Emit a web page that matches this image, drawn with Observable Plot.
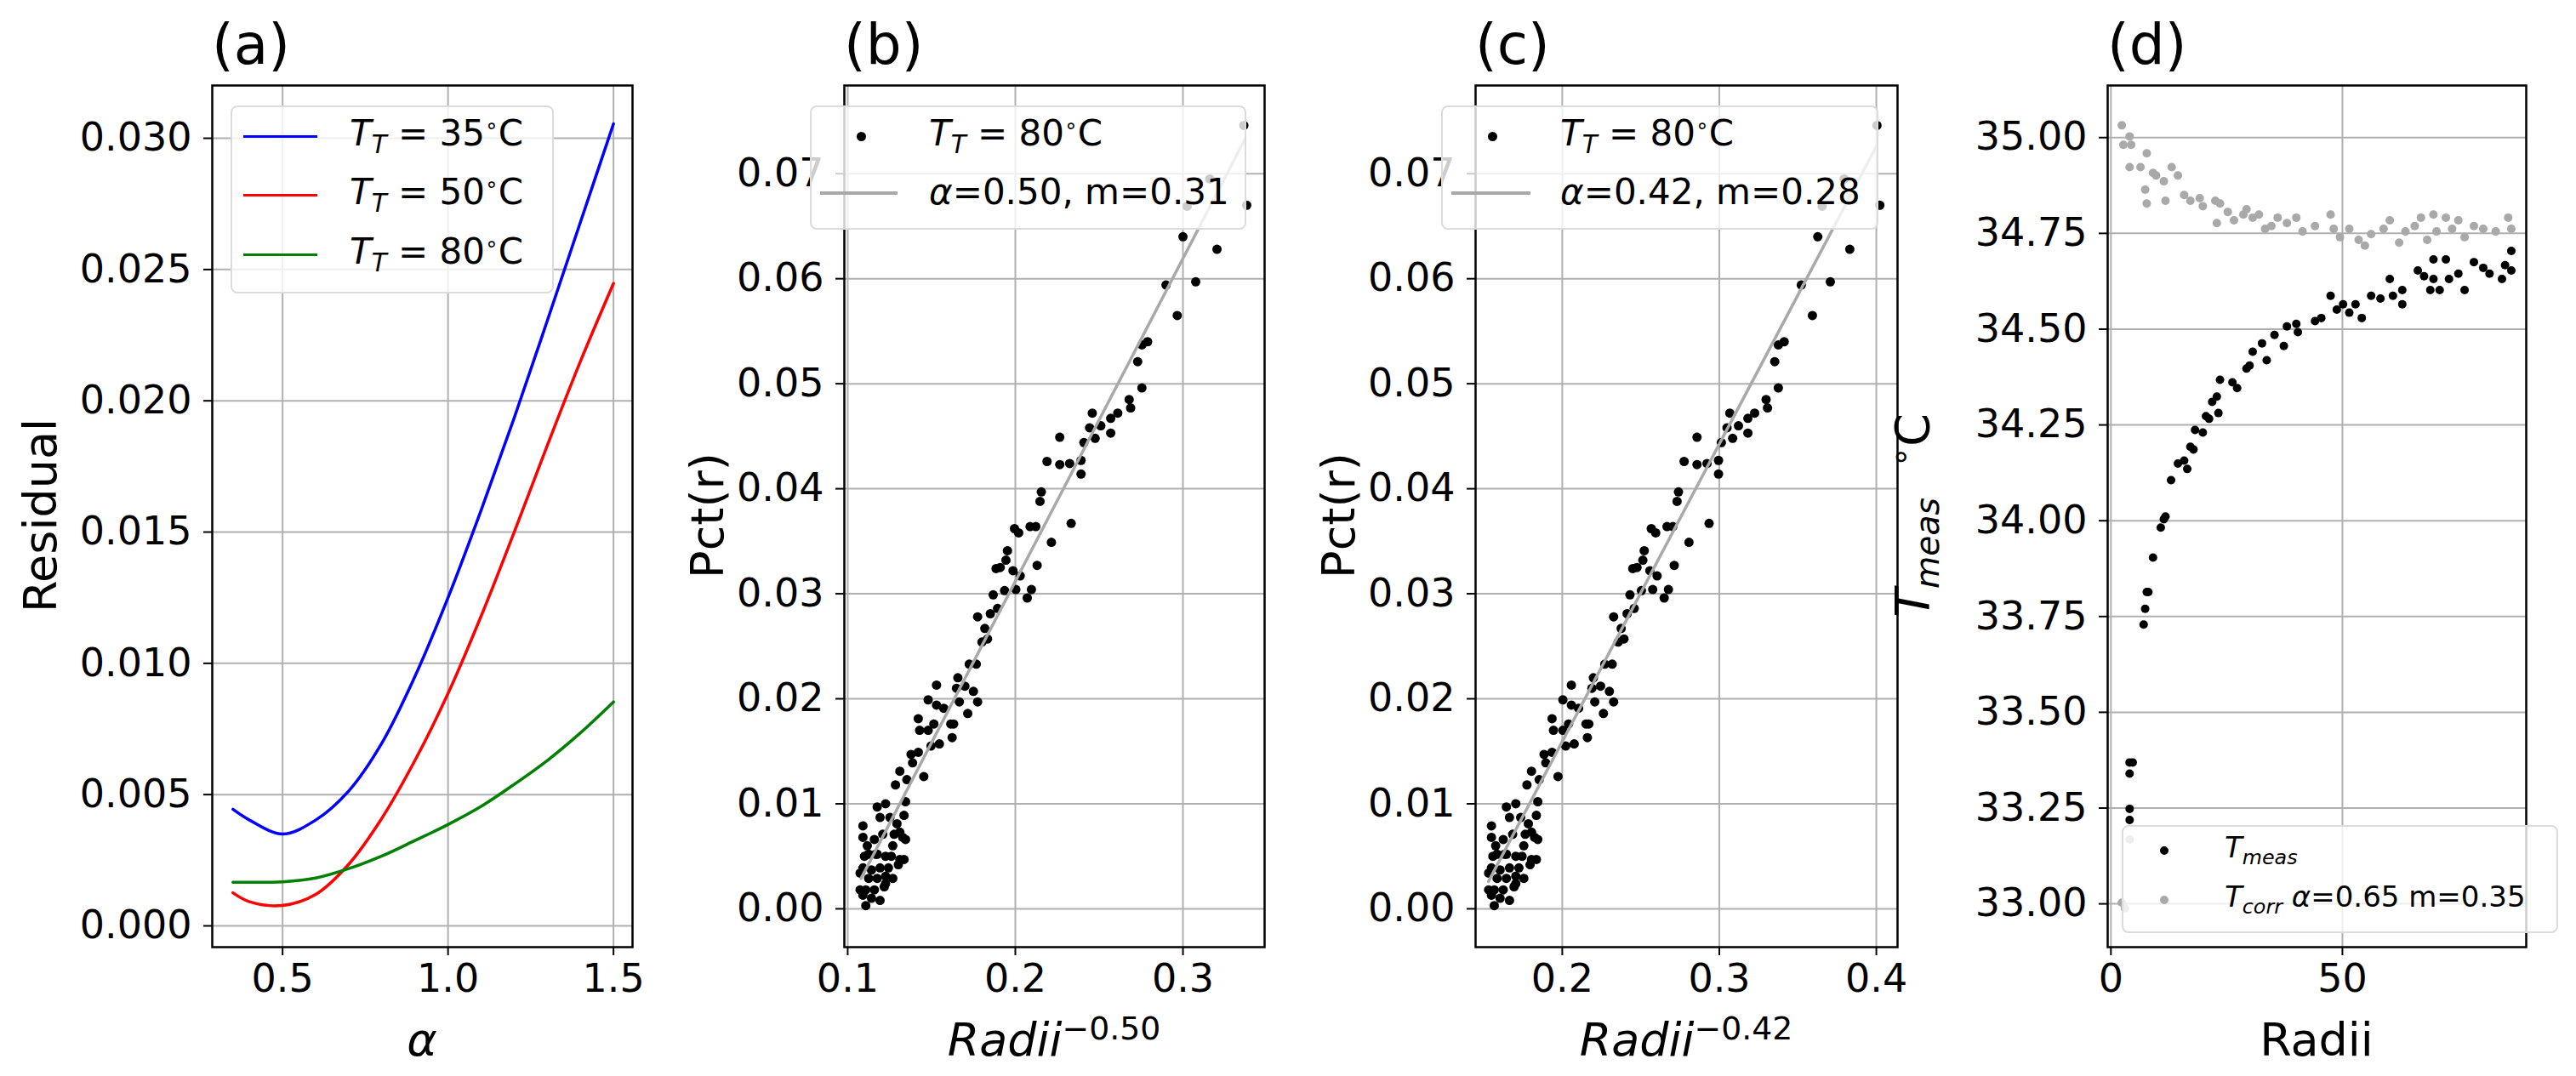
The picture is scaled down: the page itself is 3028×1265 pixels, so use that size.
<!DOCTYPE html>
<html><head><meta charset="utf-8">
<script src="https://cdn.jsdelivr.net/npm/d3@7"></script>
<script src="https://cdn.jsdelivr.net/npm/@observablehq/plot@0.6"></script>
<style>
body{margin:0;background:#fff;font-family:"DejaVu Sans",sans-serif;}
#root{position:relative;width:3028px;height:1265px;overflow:hidden;}
#root svg{position:absolute;top:0;overflow:visible;}
.t{position:absolute;white-space:nowrap;color:#000;transform:translate(-50%,-50%);line-height:1;}
.yl{transform:translate(-50%,-50%) rotate(-90deg);}
.title{position:absolute;font-size:66px;line-height:1;}
.leg{position:absolute;background:rgba(255,255,255,0.8);border:2px solid #dcdcdc;border-radius:8px;box-sizing:border-box;}
i{font-style:italic;}
sub,sup{font-size:0.7em;}
</style></head><body><div id="root"></div>
<script>
// ---------- panel (a) ----------
const alphaGrid = [0.35,0.4,0.5,0.6,0.7,0.8,0.9,1.0,1.1,1.2,1.3,1.4,1.5];
const resid35 = [0.00444,0.00403,0.00350,0.00403,0.00514,0.00696,0.00950,0.01250,0.01583,0.01935,0.02305,0.02680,0.03055];
const resid50 = [0.00126,0.00092,0.00078,0.00120,0.00235,0.00410,0.00630,0.00885,0.01180,0.01500,0.01830,0.02150,0.02447];
const resid80 = [0.00166,0.00166,0.00168,0.00182,0.00218,0.00266,0.00325,0.00386,0.00455,0.00539,0.00630,0.00735,0.00853];
// ---------- panels (b),(c) ----------
const pctY = [0.0746,0.0695,0.0669,0.0670,0.0640,0.0628,0.0597,0.0594,0.0565,0.0540,0.0537,0.0521,0.0496,0.0485,0.0477,0.0472,0.0467,0.0453,0.0472,0.0458,0.0460,0.0448,0.0444,0.0427,0.0414,0.0424,0.0423,0.0449,0.0426,0.0397,0.0388,0.0367,0.0349,0.0364,0.0364,0.0362,0.0358,0.0341,0.0332,0.0324,0.0325,0.0322,0.0317,0.0327,0.0304,0.0296,0.0304,0.0303,0.0299,0.0286,0.0281,0.0278,0.0267,0.0254,0.0257,0.0233,0.0233,0.0220,0.0213,0.0210,0.0212,0.0207,0.0197,0.0186,0.0197,0.0191,0.0199,0.0194,0.0176,0.0176,0.0163,0.0157,0.0176,0.0181,0.0170,0.0170,0.0155,0.0126,0.0149,0.0147,0.0139,0.0131,0.0118,0.0123,0.0102,0.0089,0.0100,0.0097,0.0087,0.0087,0.0081,0.0068,0.0066,0.0060,0.0071,0.0066,0.0079,0.0068,0.0050,0.0052,0.0052,0.0050,0.0050,0.0047,0.0047,0.0042,0.0039,0.0039,0.0037,0.0039,0.0034,0.0029,0.0029,0.0031,0.0029,0.0021,0.0018,0.0018,0.0018,0.0024,0.0010,0.0008,0.0003,0.0013,0.0052,0.0060,0.0071,0.0073];
const radiiPow50 = [0.3363,0.3160,0.3025,0.3380,0.3000,0.3203,0.3076,0.2899,0.2966,0.2789,0.2755,0.2730,0.2755,0.2679,0.2688,0.2611,0.2569,0.2569,0.2459,0.2443,0.2510,0.2476,0.2409,0.2392,0.2392,0.2324,0.2265,0.2265,0.2189,0.2155,0.2147,0.2333,0.2215,0.2122,0.2088,0.1995,0.2020,0.1953,0.1944,0.1885,0.1910,0.1986,0.2029,0.2130,0.2096,0.2071,0.2003,0.1936,0.1868,0.1894,0.1851,0.1775,0.1818,0.1801,0.1834,0.1767,0.1725,0.1657,0.1530,0.1649,0.1699,0.1750,0.1775,0.1716,0.1666,0.1573,0.1480,0.1530,0.1615,0.1632,0.1623,0.1547,0.1514,0.1421,0.1429,0.1480,0.1497,0.1454,0.1421,0.1378,0.1387,0.1311,0.1285,0.1353,0.1345,0.1336,0.1226,0.1176,0.1193,0.1252,0.1294,0.1328,0.1345,0.1269,0.1209,0.1159,0.1091,0.1091,0.1100,0.1125,0.1176,0.1226,0.1260,0.1311,0.1336,0.1302,0.1243,0.1193,0.1142,0.1091,0.1074,0.1125,0.1176,0.1226,0.1269,0.1218,0.1159,0.1108,0.1074,0.1226,0.1142,0.1193,0.1108,0.1091,0.1167,0.1117,0.1277,0.1311];
const radiiPow42 = [0.4004,0.3795,0.3655,0.4022,0.3627,0.3831,0.3707,0.3522,0.3593,0.3413,0.3376,0.3353,0.3376,0.3298,0.3307,0.3225,0.3182,0.3182,0.3067,0.3049,0.3122,0.3085,0.3013,0.2995,0.2995,0.2922,0.2858,0.2858,0.2776,0.2740,0.2731,0.2935,0.2807,0.2704,0.2667,0.2567,0.2595,0.2522,0.2513,0.2449,0.2476,0.2558,0.2604,0.2713,0.2676,0.2649,0.2576,0.2504,0.2431,0.2458,0.2413,0.2327,0.2375,0.2356,0.2393,0.2318,0.2271,0.2198,0.2058,0.2189,0.2244,0.2300,0.2327,0.2262,0.2207,0.2104,0.2004,0.2058,0.2151,0.2169,0.2160,0.2076,0.2040,0.1935,0.1944,0.2004,0.2022,0.1973,0.1935,0.1884,0.1895,0.1804,0.1775,0.1853,0.1844,0.1835,0.1704,0.1644,0.1664,0.1735,0.1784,0.1824,0.1844,0.1755,0.1684,0.1624,0.1549,0.1549,0.1558,0.1585,0.1644,0.1704,0.1744,0.1804,0.1835,0.1795,0.1724,0.1664,0.1604,0.1549,0.1531,0.1585,0.1644,0.1704,0.1755,0.1693,0.1624,0.1567,0.1531,0.1704,0.1604,0.1664,0.1567,0.1549,0.1633,0.1576,0.1764,0.1804];
const fitB_x = [0.108,0.337], fitB_y = [0.0029,0.0733];
const fitC_x = [0.153,0.400], fitC_y = [0.0026,0.0726];
// ---------- panel (d) ----------
const measR = [4.04,4.04,4.71,4.04,4.04,7.07,7.40,7.74,8.08,9.09,10.77,11.44,11.78,12.99,14.47,16.49,15.82,17.16,17.83,18.17,19.85,20.53,21.20,21.87,22.88,23.22,23.56,26.25,27.26,29.28,29.95,30.62,32.64,33.65,35.33,37.35,38.02,40.04,40.38,44.08,45.43,47.45,48.79,50.14,51.48,52.83,54.18,56.20,58.21,60.23,60.91,62.93,62.93,66.29,67.64,68.98,69.66,69.66,71.00,72.35,73.02,75.04,76.39,78.40,80.42,81.77,84.46,85.13,86.48,86.48];
const measT = [33.369,33.340,33.369,33.248,33.219,33.729,33.770,33.814,33.814,33.904,33.982,34.004,34.011,34.106,34.149,34.135,34.157,34.193,34.186,34.237,34.230,34.273,34.266,34.310,34.324,34.281,34.368,34.361,34.346,34.397,34.405,34.441,34.463,34.419,34.485,34.456,34.507,34.514,34.492,34.521,34.529,34.587,34.551,34.565,34.543,34.565,34.529,34.587,34.580,34.631,34.587,34.565,34.602,34.653,34.638,34.602,34.682,34.631,34.602,34.682,34.631,34.645,34.602,34.675,34.660,34.645,34.631,34.667,34.704,34.653];
const corrR = [2.36,2.69,4.04,4.37,4.04,6.39,7.74,7.40,7.74,9.09,9.76,11.44,11.78,13.12,14.47,15.82,17.16,19.18,19.85,22.55,22.88,23.56,25.24,26.58,28.60,29.28,30.62,31.97,33.31,34.66,36.01,38.02,40.04,41.39,44.08,47.45,48.12,49.47,51.48,53.50,54.85,56.20,58.89,60.23,62.25,63.60,65.62,66.96,68.31,69.66,70.33,72.35,73.69,75.04,76.39,78.40,80.42,83.11,85.81,86.48,2.36,3.03,4.04];
const corrT = [35.032,34.981,35.003,34.981,34.923,34.923,34.959,34.864,34.828,34.908,34.901,34.886,34.835,34.923,34.901,34.850,34.835,34.842,34.821,34.835,34.777,34.828,34.806,34.784,34.799,34.813,34.791,34.799,34.762,34.769,34.791,34.777,34.791,34.755,34.769,34.799,34.762,34.740,34.762,34.733,34.718,34.748,34.762,34.784,34.726,34.755,34.769,34.791,34.733,34.799,34.755,34.791,34.762,34.784,34.740,34.769,34.762,34.755,34.791,34.762,33.003,32.988,33.168];

const root = document.getElementById("root");
const H = 1265, MT = 100, MB = H - 1113;
const GRID = {stroke:"#b0b0b0", strokeOpacity:1, strokeWidth:2};
const AX = {tickSize:10, fontSize:46, strokeWidth:2};

function panel(left, ml, fw, xd, xt, xf, yd, yt, yf, marks){
  const p = Plot.plot({
    width: ml + fw + 70, height: H, marginLeft: ml, marginRight: 70, marginTop: MT, marginBottom: MB,
    style:{fontFamily:"DejaVu Sans", fontSize:"46px", color:"#000", background:"transparent"},
    x:{domain:xd, label:null}, y:{domain:yd, label:null},
    marks:[
      Plot.gridX(xt, GRID), Plot.gridY(yt, GRID),
      ...marks,
      Plot.axisX(xt, {...AX, tickFormat:xf, tickPadding:10}),
      Plot.axisY(yt, {...AX, tickFormat:yf, tickPadding:14}),
      Plot.frame({stroke:"#000", strokeWidth:2.5})
    ]
  });
  p.style.left = left + "px";
  root.appendChild(p);
}
function html(s){ root.insertAdjacentHTML("beforeend", s); }

const aRows = alphaGrid.map((a,i)=>({a, v35:resid35[i], v50:resid50[i], v80:resid80[i]}));
panel(0, 249, 494, [0.2875,1.5575], [0.5,1.0,1.5], d3.format(".1f"), [-0.00081,0.03201], d3.range(0,0.0301,0.005), d3.format(".3f"), [
  Plot.line(aRows, {x:"a", y:"v35", stroke:"blue", strokeWidth:3.5, curve:"catmull-rom"}),
  Plot.line(aRows, {x:"a", y:"v50", stroke:"red", strokeWidth:3.5, curve:"catmull-rom"}),
  Plot.line(aRows, {x:"a", y:"v80", stroke:"green", strokeWidth:3.5, curve:"catmull-rom"})
]);
panel(800, 192, 494, [0.0980,0.3487], [0.1,0.2,0.3], d3.format(".1f"), [-0.00365,0.0784], d3.range(0,0.0701,0.01), d3.format(".2f"), [
  Plot.dot(pctY, {x:(d,i)=>radiiPow50[i], y:d=>d, r:5.5, fill:"#000"}),
  Plot.line(fitB_x, {x:d=>d, y:(d,i)=>fitB_y[i], stroke:"#a9a9a9", strokeWidth:3.5})
]);
panel(1540, 194, 496, [0.1448,0.4135], [0.2,0.3,0.4], d3.format(".1f"), [-0.00365,0.0784], d3.range(0,0.0701,0.01), d3.format(".2f"), [
  Plot.dot(pctY, {x:(d,i)=>radiiPow42[i], y:d=>d, r:5.5, fill:"#000"}),
  Plot.line(fitC_x, {x:d=>d, y:(d,i)=>fitC_y[i], stroke:"#a9a9a9", strokeWidth:3.5})
]);
panel(2200, 277, 492, [-0.7,89.7], [0,50], d3.format("d"), [32.887,35.136], d3.range(33,35.001,0.25), d3.format(".2f"), [
  Plot.dot(measT, {x:(d,i)=>measR[i], y:d=>d, r:5, fill:"#000"}),
  Plot.dot(corrT, {x:(d,i)=>corrR[i], y:d=>d, r:5, fill:"#a9a9a9"})
]);

// titles
[["(a)",249],["(b)",992],["(c)",1734],["(d)",2477]].forEach(([t,x])=>html(`<div class="title" style="left:${x}px;top:20px">${t}</div>`));
// axis labels
html(`<div class="t" style="left:496px;top:1223px;font-size:54px"><i>α</i></div>`);
html(`<div class="t" style="left:1239px;top:1220px;font-size:54px"><i>Radii</i><sup>−0.50</sup></div>`);
html(`<div class="t" style="left:1982px;top:1220px;font-size:54px"><i>Radii</i><sup>−0.42</sup></div>`);
html(`<div class="t" style="left:2723px;top:1223px;font-size:54px">Radii</div>`);
html(`<div class="t yl" style="left:48px;top:606px;font-size:54px">Residual</div>`);
html(`<div class="t yl" style="left:832px;top:606px;font-size:54px">Pct(r)</div>`);
html(`<div class="t yl" style="left:1574px;top:606px;font-size:54px">Pct(r)</div>`);
html(`<div class="t yl" style="left:2250px;top:606px;font-size:56px"><i>T</i><sub><i>meas</i></sub> &nbsp;<sup>∘</sup>C</div>`);

// legends
const TT = v=>`<i>T</i><sub><i>T</i></sub> = ${v}<sup style="font-size:0.6em">∘</sup>C`;
html(`<div class="leg" style="left:271px;top:124px;width:380px;height:221px"></div>`);
[["blue","35",160],["red","50",229],["green","80",299]].forEach(([c,v,y])=>{
  html(`<div style="position:absolute;left:286px;top:${y-1.5}px;width:87px;height:3.5px;background:${c}"></div>`);
  html(`<div class="t" style="left:411px;top:${y}px;transform:translate(0,-50%);font-size:42px">${TT(v)}</div>`);
});
function legBC(left, right, lineEnd, text, txt){
  html(`<div class="leg" style="left:${left}px;top:124px;width:${right-left}px;height:146px"></div>`);
  html(`<div style="position:absolute;left:${left+55}px;top:155px;width:11px;height:11px;border-radius:50%;background:#000"></div>`);
  html(`<div class="t" style="left:${text}px;top:160px;transform:translate(0,-50%);font-size:42px">${TT("80")}</div>`);
  html(`<div style="position:absolute;left:${left+12}px;top:225px;width:${lineEnd-left-12}px;height:3.5px;background:#a9a9a9"></div>`);
  html(`<div class="t" style="left:${text}px;top:226px;transform:translate(0,-50%);font-size:42px">${txt}</div>`);
}
legBC(952, 1465, 1055, 1092, "<i>α</i>=0.50, m=0.31");
legBC(1694, 2208, 1799, 1834, "<i>α</i>=0.42, m=0.28");
html(`<div class="leg" style="left:2494px;top:970px;width:513px;height:127px"></div>`);
html(`<div style="position:absolute;left:2539px;top:995px;width:10px;height:10px;border-radius:50%;background:#000"></div>`);
html(`<div style="position:absolute;left:2539px;top:1053px;width:10px;height:10px;border-radius:50%;background:#a9a9a9"></div>`);
html(`<div class="t" style="left:2615px;top:1000px;transform:translate(0,-50%);font-size:34px"><i>T</i><sub><i>meas</i></sub></div>`);
html(`<div class="t" style="left:2615px;top:1058px;transform:translate(0,-50%);font-size:34px"><i>T</i><sub><i>corr</i></sub> <i>α</i>=0.65 m=0.35</div>`);
</script></body></html>
